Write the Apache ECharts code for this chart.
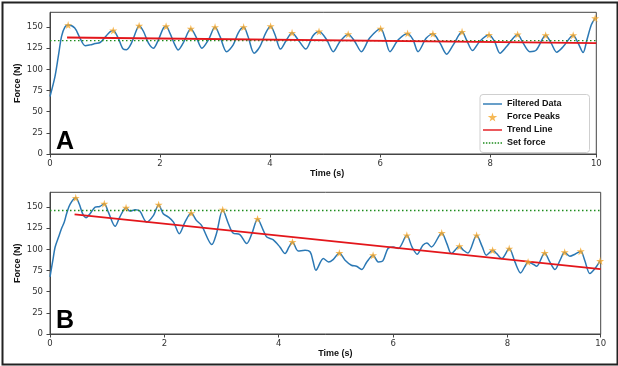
<!DOCTYPE html>
<html>
<head>
<meta charset="utf-8">
<script src="https://cdn.jsdelivr.net/npm/echarts/dist/echarts.min.js"></script>
<style>
html,body{margin:0;padding:0;background:#fff;}
#chart{width:618px;height:366px;}
</style>
</head>
<body>
<div id="chart"></div>
<script>
// ---------- Panel A (top) ----------
const timeA = [0,0.09,0.15,0.21,0.27,0.33,0.45,0.545,0.64,0.73,0.82,0.91,1.0,1.09,1.15,1.24,1.33,1.39,1.48,1.575,1.62,1.70,1.79,1.88,1.97,2.06,2.11,2.18,2.27,2.33,2.42,2.56,2.665,2.76,2.88,3.0,3.09,3.21,3.33,3.42,3.52,3.60,3.71,3.815,3.92,4.01,4.09,4.19,4.30,4.40,4.51,4.65,4.78,4.89,5.03,5.15,5.27,5.42,5.54,5.66,5.81,6.01,6.09,6.18,6.33,6.50,6.60,6.69,6.84,6.96,7.09,7.21,7.33,7.49,7.57,7.68,7.81,7.98,8.08,8.18,8.30,8.50,8.60,8.72,8.84,9.01,9.11,9.21,9.33,9.51,9.60,9.69,9.76,9.84,9.91];
const forceA = [67.9,91.5,115,139,150,152.4,148.8,137,127.9,129,130.5,131.8,138,144.4,146,137,124,123.3,131,146.8,151.6,144.8,131,125,135,148.8,151,142.9,129,123,131,148,137,125,135,150,139,121,129,143,150,139,119.2,127,143,151,141,124,135,143.2,135,124,139.7,144.8,135,121,133,141.7,133,121,137,148,137,121,135,142.5,135,121,137,142,131,118,129,144.4,135,122.3,133,140.9,133,119.2,127,141.3,131,121,123,140.5,131,120.4,127,140.5,131,120,135,152.7,160.6];
const peakTimeA = [0.33,1.15,1.62,2.11,2.56,3.0,3.52,4.01,4.40,4.89,5.42,6.01,6.50,6.96,7.49,7.98,8.50,9.01,9.51,9.91];
const peakForceA = [152.4,146,151.6,151,148,150,150,151,143.2,144.8,141.7,148,142.5,142,144.4,140.9,141.3,140.5,140.5,160.6];
const trendTimeA = [0.31, 9.93];
const trendForceA = [137.7, 131.1];
const setForceA = 134;
const xRangeA = [0, 9.93];

// ---------- Panel B (bottom) ----------
const timeB = [0,0.05,0.09,0.15,0.20,0.25,0.29,0.35,0.45,0.51,0.57,0.63,0.70,0.79,0.87,0.95,1.02,1.14,1.22,1.33,1.40,1.49,1.57,1.69,1.81,1.90,1.98,2.07,2.16,2.26,2.36,2.47,2.56,2.65,2.83,2.91,3.02,3.12,3.20,3.32,3.44,3.53,3.63,3.73,3.79,3.90,4.02,4.11,4.18,4.24,4.34,4.46,4.55,4.60,4.65,4.78,4.87,4.95,5.06,5.16,5.27,5.36,5.45,5.54,5.65,5.74,5.82,5.91,6.0,6.09,6.24,6.33,6.42,6.52,6.59,6.67,6.85,6.94,7.02,7.16,7.23,7.31,7.46,7.56,7.63,7.74,7.81,7.90,8.03,8.13,8.23,8.30,8.36,8.45,8.51,8.65,8.74,8.83,8.92,9.00,9.09,9.18,9.28,9.35,9.44,9.53,9.62];
const forceB = [67.5,87.2,102.9,114.6,124.5,132.3,142.2,153.2,161,154,142.2,137.5,142.2,150,150.8,154,144.1,127.3,138.2,149.3,145.3,146.9,145.3,132.3,140.2,152.8,142.2,138.2,132.3,118.6,132.3,142.9,134.3,128.4,105.7,118.6,146.9,130.4,119.4,117.5,106.9,118.6,135.9,122.5,114.6,111.5,102.9,95.1,102.9,108.8,98.1,99,97,86,75.4,89.2,85.2,88,95.8,87.2,81.3,80.1,76.2,85.2,93.1,85.2,86.4,101,102.9,101,116.6,102.9,94.3,104.9,107.6,102.9,119.4,106.9,95.1,103.7,99,95.8,116.6,102.9,93.1,99,95.1,89.2,101,85.2,72.2,79.3,85.2,82.5,80.1,95.8,85.2,76.2,87.2,96.6,91.9,94.3,97.8,87.2,71.5,77.4,86.4];
const peakTimeB = [0.45,0.95,1.33,1.90,2.47,3.02,3.63,4.24,5.06,5.65,6.24,6.85,7.16,7.46,7.74,8.03,8.36,8.65,9.00,9.28,9.62];
const peakForceB = [161,154,149.3,152.8,142.9,146.9,135.9,108.8,95.8,93.1,116.6,119.4,103.7,116.6,99,101,85.2,95.8,96.6,97.8,86.4];
const trendTimeB = [0.43, 9.63];
const trendForceB = [141.4, 76.6];
const setForceB = 146;
const xRangeB = [0, 9.63];

const yTicks = [0, 25, 50, 75, 100, 125, 150];
const seriesNames = ['Filtered Data', 'Force Peaks', 'Trend Line', 'Set force'];
const panelLetters = ['A', 'B'];

// ---------- helpers ----------
const zip = (xs, ys) => xs.map((x, i) => [x, ys[i]]);
const STAR = 'path://M50,0 L61,35 L98,35 L68,57 L79,91 L50,70 L21,91 L32,57 L2,35 L39,35 Z';
const ICON_LINE = 'path://M0,0 H40 V3 H0 Z';
const ICON_DOTS = 'path://M0,0h3v3h-3z M6,0h3v3h-3z M12,0h3v3h-3z M18,0h3v3h-3z M24,0h3v3h-3z M30,0h3v3h-3z M36,0h3v3h-3z';
const C_BLUE = '#2b78b4', C_ORANGE = '#f4a62a', C_RED = '#e3161b', C_GREEN = '#1c8c1c';
const AXIS_COL = '#444';
const TICK_FONT = { fontFamily: 'DejaVu Sans', fontSize: 8.5, color: '#333' };
const TITLE_FONT = { fontFamily: 'Liberation Sans', fontWeight: 'bold', fontSize: 9, color: '#111' };

function xAxisFor(idx, range) {
  return {
    type: 'value', gridIndex: idx, min: range[0], max: range[1], interval: 2,
    name: 'Time (s)', nameLocation: 'middle', nameGap: 15, nameMoveOverlap: false,
    nameTextStyle: Object.assign({}, TITLE_FONT, { padding: [0, 0, 0, idx === 0 ? 8 : 20] }),
    axisLine: { show: true, lineStyle: { color: AXIS_COL, width: 1 } },
    axisTick: { show: true, inside: false, length: 3.5, lineStyle: { color: AXIS_COL } },
    axisLabel: Object.assign({ margin: 5, showMaxLabel: true, formatter: v => String(Math.round(v)) }, TICK_FONT),
    splitLine: { show: false }
  };
}
function yAxisFor(idx) {
  return {
    type: 'value', gridIndex: idx, min: 0, max: 167.5, interval: 25,
    name: 'Force (N)', nameLocation: 'middle', nameGap: 28, nameMoveOverlap: false,
    nameTextStyle: TITLE_FONT,
    axisLine: { show: true, lineStyle: { color: AXIS_COL, width: 1 } },
    axisTick: { show: true, inside: false, length: 3.5, lineStyle: { color: AXIS_COL } },
    axisLabel: Object.assign({ margin: 7, showMaxLabel: false,
      formatter: v => (yTicks.indexOf(v) >= 0 ? String(v) : '') }, TICK_FONT),
    splitLine: { show: false }
  };
}
function panelSeries(idx, t, f, pt, pf, tt, tf, sf, range) {
  return [
    { name: seriesNames[0], type: 'line', xAxisIndex: idx, yAxisIndex: idx, data: zip(t, f),
      symbol: 'none', showSymbol: false, smooth: 0.3, lineStyle: { color: C_BLUE, width: 1.5 },
      itemStyle: { color: C_BLUE }, z: 2 },
    { name: seriesNames[1], type: 'scatter', xAxisIndex: idx, yAxisIndex: idx, data: zip(pt, pf),
      symbol: STAR, symbolSize: 8, itemStyle: { color: C_ORANGE }, z: 5 },
    { name: seriesNames[2], type: 'line', xAxisIndex: idx, yAxisIndex: idx, data: zip(tt, tf),
      symbol: 'none', lineStyle: { color: C_RED, width: 1.8 }, itemStyle: { color: C_RED }, z: 4 },
    { name: seriesNames[3], type: 'line', xAxisIndex: idx, yAxisIndex: idx,
      data: [[range[0], sf], [range[1], sf]],
      symbol: 'none', lineStyle: { color: C_GREEN, width: 1.3, type: [1.5, 2.5] },
      itemStyle: { color: C_GREEN }, z: 3 }
  ];
}
const legendIcons = [ICON_LINE, STAR, ICON_LINE, ICON_DOTS];
const legendColors = [C_BLUE, C_ORANGE, C_RED, C_GREEN];

const chart = echarts.init(document.getElementById('chart'), null, { renderer: 'canvas' });
chart.setOption({
  animation: false,
  backgroundColor: '#fff',
  grid: [
    { left: 50, top: 12.3, right: 21.7, height: 141.7, show: true, borderColor: AXIS_COL, borderWidth: 1, backgroundColor: 'transparent' },
    { left: 50, top: 192.3, right: 17.3, height: 141.7, show: true, borderColor: AXIS_COL, borderWidth: 1, backgroundColor: 'transparent' }
  ],
  xAxis: [xAxisFor(0, xRangeA), xAxisFor(1, xRangeB)],
  yAxis: [yAxisFor(0), yAxisFor(1)],
  legend: {
    orient: 'vertical', left: 480, top: 94.5,
    padding: [5, 28, 5, 3], itemGap: 4, itemWidth: 19, itemHeight: 9,
    symbolKeepAspect: true,
    backgroundColor: '#fff', borderColor: '#cfcfcf', borderWidth: 1, borderRadius: 3,
    textStyle: { fontFamily: 'Liberation Sans', fontWeight: 'bold', fontSize: 9, color: '#111' },
    data: seriesNames.map((n, i) => ({
      name: n, icon: legendIcons[i],
      itemStyle: { color: legendColors[i], borderWidth: 0 },
      lineStyle: { width: 0, opacity: 0 }
    })),
    selectedMode: false
  },
  graphic: [
    { type: 'text', left: 56, top: 130, silent: true,
      style: { text: panelLetters[0], font: 'bold 25px "Liberation Sans"', fill: '#000' } },
    { type: 'text', left: 56, top: 309, silent: true,
      style: { text: panelLetters[1], font: 'bold 25px "Liberation Sans"', fill: '#000' } },
    { type: 'rect', left: 0, top: 0, silent: true, z: 100,
      shape: { x: 1, y: 1, width: 615, height: 362 },
      style: { fill: 'none', stroke: '#222', lineWidth: 2 } }
  ],
  series: [].concat(
    panelSeries(0, timeA, forceA, peakTimeA, peakForceA, trendTimeA, trendForceA, setForceA, xRangeA),
    panelSeries(1, timeB, forceB, peakTimeB, peakForceB, trendTimeB, trendForceB, setForceB, xRangeB)
  )
});
</script>
</body>
</html>
